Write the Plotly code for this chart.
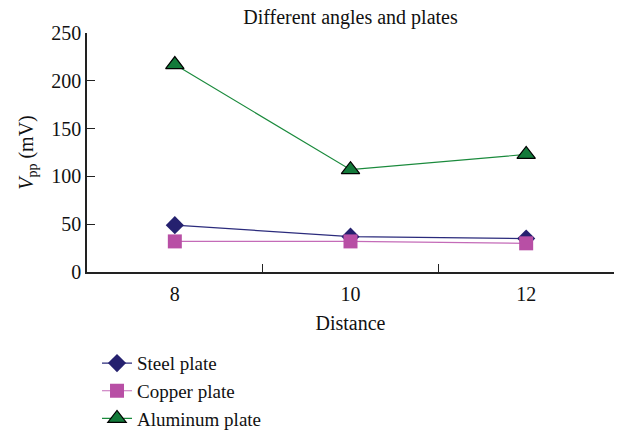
import plotly.graph_objects as go

distance = ["8", "10", "12"]
steel = [49, 37, 35]
copper = [32, 32, 30]
aluminum = [217, 107, 123]

font_family = "Liberation Serif"

fig = go.Figure()
fig.add_trace(go.Scatter(
    x=distance, y=steel, name="Steel plate", mode="lines+markers",
    line=dict(color="#2b2b7c", width=1.2),
    marker=dict(symbol="diamond", size=14, color="#25216f", line=dict(width=0))
))
fig.add_trace(go.Scatter(
    x=distance, y=copper, name="Copper plate", mode="lines+markers",
    line=dict(color="#c46bb8", width=1.2),
    marker=dict(symbol="square", size=14, color="#b84fa5", line=dict(width=0))
))
fig.add_trace(go.Scatter(
    x=distance, y=aluminum, name="Aluminum plate", mode="lines+markers",
    line=dict(color="#1a8a3c", width=1.2),
    marker=dict(symbol="triangle-up", size=16, color="#137a3a", line=dict(width=1.2, color="#000000"))
))

fig.update_layout(
    width=625, height=436,
    margin=dict(l=87, r=11, t=33, b=164, autoexpand=False),
    paper_bgcolor="white", plot_bgcolor="white",
    font=dict(family=font_family, size=20, color="#111111"),
    title=dict(text="Different angles and plates", xref="paper", x=0.5, xanchor="center",
               y=0.962, yanchor="middle", font=dict(size=20)),
    showlegend=True,
    legend=dict(x=0.019, y=-0.302, xanchor="left", yanchor="top",
                font=dict(size=19), tracegroupgap=0, itemwidth=30,
                bgcolor="rgba(0,0,0,0)"),
)
fig.update_xaxes(
    type="category", range=[-0.5, 2.5], tickson="boundaries",
    ticks="inside", ticklen=8, tickcolor="#222", showline=True,
    linecolor="#222", linewidth=1.5, showgrid=False, zeroline=False,
    automargin=False, ticklabelstandoff=3,
    title=dict(text="Distance", font=dict(size=20), standoff=12),
    tickfont=dict(size=20),
)
fig.update_yaxes(
    range=[0, 250], dtick=50, ticks="inside", ticklen=8, tickcolor="#222",
    showline=True, linecolor="#222", linewidth=1.5, showgrid=False,
    zeroline=False, tickfont=dict(size=20), automargin=False,
    title=dict(text="<i>V</i><sub>pp</sub> (mV)", font=dict(size=20), standoff=12),
)

fig.write_html("out.html", config={"displayModeBar": False},
               post_script="document.body.style.margin='0';")
